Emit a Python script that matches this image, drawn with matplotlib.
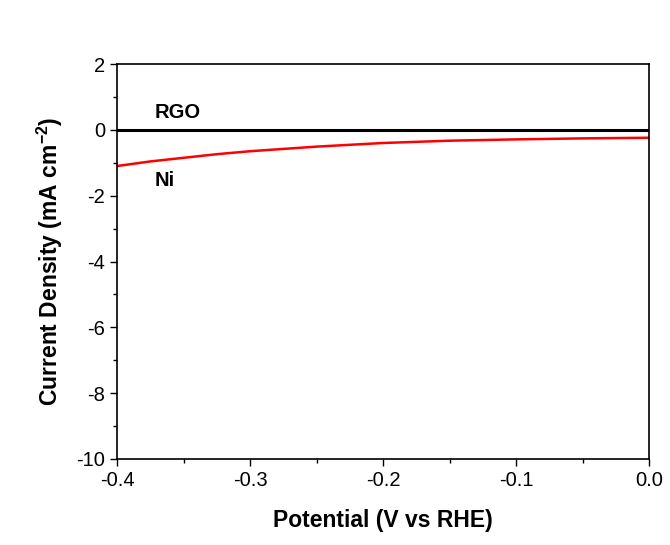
import matplotlib
matplotlib.use("Agg")
import matplotlib.pyplot as plt
from matplotlib.ticker import MultipleLocator

plt.rcParams['font.family'] = ['Liberation Sans', 'DejaVu Sans']
plt.rcParams['axes.unicode_minus'] = False

potential = [-0.4, -0.375, -0.35, -0.325, -0.3, -0.25, -0.2, -0.15, -0.1, -0.05, 0.0]
ni_current = [-1.10, -0.96, -0.85, -0.74, -0.65, -0.51, -0.40, -0.33, -0.29, -0.26, -0.24]
rgo_current = [0.0] * len(potential)

fig = plt.figure(figsize=(6.7, 5.45), dpi=100)
ax = fig.add_axes([117/670, 1-459/545, (649-117)/670, (459-64)/545])

ax.plot(potential, rgo_current, color='black', lw=2.2)
ax.plot(potential, ni_current, color='#ff0000', lw=1.8)

ax.set_xlim(-0.4, 0.0)
ax.set_ylim(-10, 2)
ax.xaxis.set_major_locator(MultipleLocator(0.1))
ax.xaxis.set_minor_locator(MultipleLocator(0.05))
ax.yaxis.set_major_locator(MultipleLocator(2))
ax.yaxis.set_minor_locator(MultipleLocator(1))
ax.tick_params(which='both', direction='out', top=False, right=False, labelsize=14.5)
ax.tick_params(which='major', length=5, width=1)
ax.tick_params(which='minor', length=3, width=1)
ax.set_xticklabels([f"{v:.1f}" for v in ax.get_xticks()])
for s in ax.spines.values():
    s.set_linewidth(1.2)

ax.set_xlabel('Potential (V vs RHE)', fontsize=16.5, fontweight='bold', labelpad=14)
ax.set_ylabel('Current Density (mA cm$^{\\mathregular{-2}}$)', fontsize=16.5, fontweight='bold', labelpad=8)

ax.text(-0.372, 0.25, 'RGO', fontsize=14.5, fontweight='bold', ha='left', va='bottom')
ax.text(-0.372, -1.55, 'Ni', fontsize=14.5, fontweight='bold', ha='left', va='center')

fig.savefig('out.png', dpi=100)
